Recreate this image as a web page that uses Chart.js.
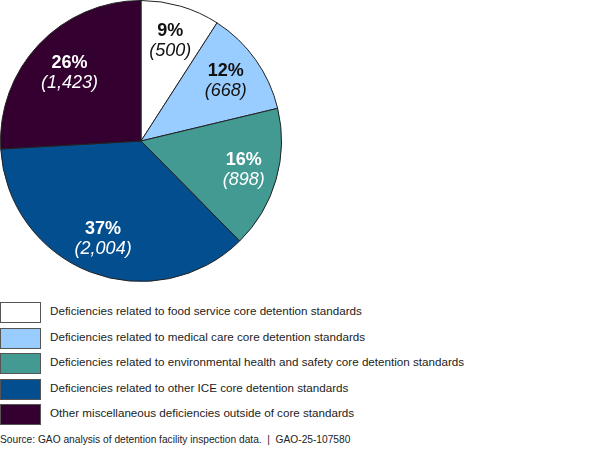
<!DOCTYPE html>
<html>
<head>
<meta charset="utf-8">
<script src="https://cdn.jsdelivr.net/npm/chart.js@4.4.1/dist/chart.umd.min.js"></script>
<style>
  body { margin: 0; background: #fff; font-family: "Liberation Sans", Arial, sans-serif; }
  #wrap { position: relative; width: 600px; height: 449px; overflow: hidden; }
  #pieBox { position: absolute; left: 0; top: 0; width: 282px; height: 282px; }
  #legend { position: absolute; left: 0; top: 302px; }
  .row { position: relative; height: 25.6px; }
  .swatch { position: absolute; left: 0; top: 0; width: 39px; height: 19px; border: 1px solid #555; }
  .lbl { position: absolute; left: 50px; top: 2px; font-size: 11.65px; color: #222; white-space: nowrap; }
  #source { position: absolute; left: 0; top: 434px; font-size: 10.2px; color: #222; white-space: nowrap; }
</style>
</head>
<body>
<div id="wrap">
  <div id="pieBox"><canvas id="pieChart" width="282" height="282"></canvas></div>
  <div id="legend"></div>
  <div id="source">Source: GAO analysis of detention facility inspection data.&nbsp; |&nbsp; GAO-25-107580</div>
</div>
<script>
document.addEventListener('DOMContentLoaded', function() {
    // Deficiency categories and counts, clockwise from 12 o'clock
    const categories = [
        'Deficiencies related to food service core detention standards',
        'Deficiencies related to medical care core detention standards',
        'Deficiencies related to environmental health and safety core detention standards',
        'Deficiencies related to other ICE core detention standards',
        'Other miscellaneous deficiencies outside of core standards'
    ];
    const counts = [500, 668, 898, 2004, 1423];
    const percents = ['9%', '12%', '16%', '37%', '26%'];
    const colors = ['#ffffff', '#99ccff', '#429a92', '#034e8f', '#33002f'];
    const textColors = ['#111111', '#111111', '#ffffff', '#ffffff', '#ffffff'];
    // how far out (fraction of radius) each slice label sits
    const labelRadius = [0.74, 0.74, 0.76, 0.75, 0.70];

    // HTML legend
    const legend = document.getElementById('legend');
    categories.forEach(function(name, i) {
        const row = document.createElement('div');
        row.className = 'row';
        row.innerHTML = '<span class="swatch" style="background:' + colors[i] + '"></span>' +
            '<span class="lbl">' + name + '</span>';
        legend.appendChild(row);
    });

    // Percent + count labels inside each slice
    const sliceLabels = {
        id: 'sliceLabels',
        afterDatasetsDraw: function(chart) {
            const ctx = chart.ctx;
            const meta = chart.getDatasetMeta(0);
            ctx.save();
            ctx.textAlign = 'center';
            ctx.textBaseline = 'middle';
            meta.data.forEach(function(arc, i) {
                const p = arc.getProps(['x', 'y', 'startAngle', 'endAngle', 'outerRadius'], true);
                const mid = (p.startAngle + p.endAngle) / 2;
                const r = p.outerRadius * labelRadius[i];
                const x = p.x + Math.cos(mid) * r;
                const y = p.y + Math.sin(mid) * r;
                ctx.fillStyle = textColors[i];
                ctx.font = 'bold 18px "Liberation Sans", Arial, sans-serif';
                ctx.fillText(percents[i], x, y - 10);
                ctx.font = 'italic 18px "Liberation Sans", Arial, sans-serif';
                ctx.fillText('(' + counts[i].toLocaleString('en-US') + ')', x, y + 10);
            });
            ctx.restore();
        }
    };

    new Chart(document.getElementById('pieChart'), {
        type: 'pie',
        data: {
            labels: categories,
            datasets: [{
                data: counts,
                backgroundColor: colors,
                borderColor: '#222222',
                borderWidth: 1
            }]
        },
        options: {
            responsive: false,
            animation: false,
            layout: { padding: 0 },
            plugins: {
                legend: { display: false },
                tooltip: { enabled: false }
            }
        },
        plugins: [sliceLabels]
    });
});
</script>
</body>
</html>
